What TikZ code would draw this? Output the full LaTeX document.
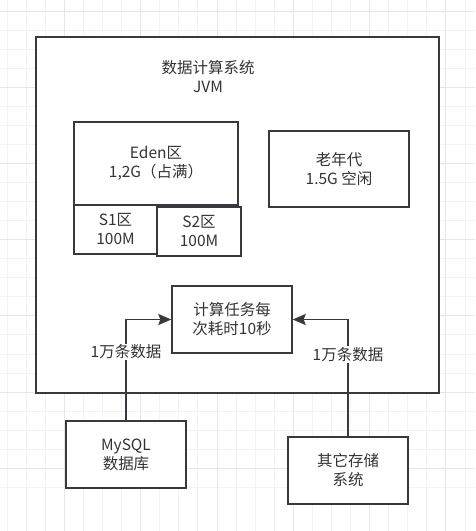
\documentclass[tikz,border=0pt]{standalone}
\usepackage{fontspec}
\setmainfont{Noto Sans CJK SC}
\usepackage{tikz}
\usetikzlibrary{arrows.meta,positioning}
\definecolor{edgegray}{HTML}{36393D}
\definecolor{textgray}{HTML}{333333}
\definecolor{gridminor}{HTML}{F3F3F3}
\definecolor{gridmajor}{HTML}{E6E6E6}
\tikzset{
  membox/.style={
    rectangle,
    draw=edgegray,
    fill=white,
    line width=1.4pt,
    align=center,
    text=textgray,
    font=\fontsize{15.5}{19}\selectfont,
    inner sep=0pt
  },
  datalabel/.style={
    fill=white,
    text=textgray,
    font=\fontsize{15.5}{19}\selectfont,
    inner sep=1pt
  },
  dataflow/.style={-{Stealth[length=13pt,width=11pt,inset=2pt]},line width=1.4pt,draw=edgegray}
}
\begin{document}
\begin{tikzpicture}[x=1pt,y=-1pt]
  \useasboundingbox (0,0) rectangle (475,531);
  % background grid
  \foreach \k in {0,...,25} {
    \draw[gridminor,line width=0.8pt] (7.1+19.075*\k,0) -- (7.1+19.075*\k,531);
    \draw[gridminor,line width=0.8pt] (0,11+19.05*\k) -- (475,11+19.05*\k);
  }
  \foreach \k in {0,...,6} {
    \draw[gridmajor,line width=0.8pt] (64.3+76.3*\k,0) -- (64.3+76.3*\k,531);
    \draw[gridmajor,line width=0.8pt] (0,11+76.2*\k) -- (475,11+76.2*\k);
  }
  % JVM frame
  \node[membox, minimum width=403pt, minimum height=356pt] (jvm) at (237.5,215) {};
  \node[align=center, text=textgray, font=\fontsize{15.5}{19}\selectfont] (title) at (208,77) {数据计算系统\\JVM};
  % heap regions
  \node[membox, minimum width=164pt, minimum height=83pt] (eden) at (156,163.5) {Eden区\\1,2G（占满）};
  \node[membox, minimum width=83pt, minimum height=49pt] (s1) at (115.5,229.5) {S1区\\100M};
  \node[membox, minimum width=84pt, minimum height=49pt] (s2) at (199,231.5) {S2区\\100M};
  \node[membox, minimum width=140pt, minimum height=76pt] (old) at (339,169) {老年代\\1.5G 空闲};
  % task and sources
  \node[membox, minimum width=120pt, minimum height=67pt] (task) at (232,319.5) {计算任务每\\次耗时10秒};
  \node[membox, minimum width=120pt, minimum height=67pt] (mysql) at (126,454.5) {MySQL\\数据库};
  \node[membox, minimum width=120pt, minimum height=67pt] (other) at (348,470.5) {其它存储\\系统};
  \draw[dataflow] (mysql.north) |- node[datalabel, pos=0.34] {1万条数据} (task.west);
  \draw[dataflow] (other.north) |- node[datalabel, pos=0.35] {1万条数据} (task.east);
\end{tikzpicture}
\end{document}
